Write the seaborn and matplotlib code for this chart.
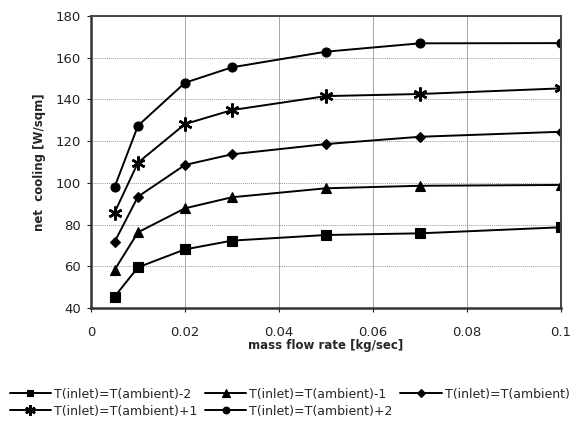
import matplotlib
matplotlib.use("Agg")
import matplotlib.pyplot as plt
import seaborn as sns
import pandas as pd

sns.set_theme(style="white")
plt.rcParams["font.family"] = ["DejaVu Sans"]

mass_flow = [0.005, 0.01, 0.02, 0.03, 0.05, 0.07, 0.1]

cool_m2 = [45.4, 59.5, 68.1, 72.3, 75.0, 75.8, 78.7]
cool_m1 = [58.2, 76.3, 87.8, 93.1, 97.4, 98.6, 99.0]
cool_0 = [71.6, 93.4, 108.6, 113.7, 118.6, 122.1, 124.5]
cool_p1 = [85.7, 109.7, 128.2, 134.9, 141.6, 142.6, 145.3]
cool_p2 = [97.9, 127.4, 148.0, 155.4, 162.9, 166.9, 167.0]

series_names = [
    "T(inlet)=T(ambient)-2",
    "T(inlet)=T(ambient)-1",
    "T(inlet)=T(ambient)",
    "T(inlet)=T(ambient)+1",
    "T(inlet)=T(ambient)+2",
]
series_values = [cool_m2, cool_m1, cool_0, cool_p1, cool_p2]
markers = ["s", "^", "D", (6, 2, 0), "o"]
marker_sizes = [6.5, 7, 5.5, 10, 6.5]

x_ticks = [0, 0.02, 0.04, 0.06, 0.08, 0.1]
x_tick_labels = ["0", "0.02", "0.04", "0.06", "0.08", "0.1"]
y_ticks = [40, 60, 80, 100, 120, 140, 160, 180]

rows = []
for name, vals in zip(series_names, series_values):
    for x, v in zip(mass_flow, vals):
        rows.append({"mass flow": x, "cooling": v, "series": name})
df = pd.DataFrame(rows)

fig = plt.figure(figsize=(5.88, 4.25), dpi=100)
ax = fig.add_axes([91 / 588, 1 - 308 / 425, 470 / 588, 292 / 425])

handles = []
for name, mk, ms in zip(series_names, markers, marker_sizes):
    sub = df[df["series"] == name]
    star = isinstance(mk, tuple)
    sns.lineplot(data=sub, x="mass flow", y="cooling", ax=ax, color="black",
                 linewidth=1.4, marker=mk, markersize=ms,
                 markeredgecolor="black", markerfacecolor="black",
                 markeredgewidth=1.8 if star else 0.8,
                 label=name, legend=False)
    handles.append(ax.lines[-1])

ax.set_xlim(0, 0.1)
ax.set_ylim(40, 180)
ax.set_xticks(x_ticks)
ax.set_xticklabels(x_tick_labels)
ax.set_yticks(y_ticks)

ax.grid(axis="x", color="#999999", linewidth=0.6, linestyle="-")
ax.grid(axis="y", color="#999999", linewidth=0.7, linestyle=(0, (1, 1)))
ax.set_axisbelow(True)

for side in ["left", "bottom"]:
    ax.spines[side].set_linewidth(1.8)
    ax.spines[side].set_color("#333333")
for side in ["top", "right"]:
    ax.spines[side].set_linewidth(1.4)
    ax.spines[side].set_color("#444444")

ax.tick_params(axis="both", which="major", labelsize=9.5, colors="#222222",
               length=3, width=0.8, direction="out", bottom=True, left=True)
ax.tick_params(axis="x", pad=10)
ax.tick_params(axis="y", pad=4)

ax.set_xlabel("mass flow rate [kg/sec]", fontsize=8.5, fontweight="bold",
              labelpad=0)
ax.set_ylabel("net  cooling [W/sqm]", fontsize=8.5, fontweight="bold",
              labelpad=7)

order = [0, 3, 1, 4, 2]
fig.legend([handles[i] for i in order], [series_names[i] for i in order],
           loc="lower left", bbox_to_anchor=(0.004, 0.0), ncol=3,
           frameon=False, fontsize=9.0, handlelength=3.3, handletextpad=0.25,
           columnspacing=0.6, labelspacing=0.3, borderaxespad=0.2,
           markerscale=0.75)

fig.savefig("out.png", dpi=100)
